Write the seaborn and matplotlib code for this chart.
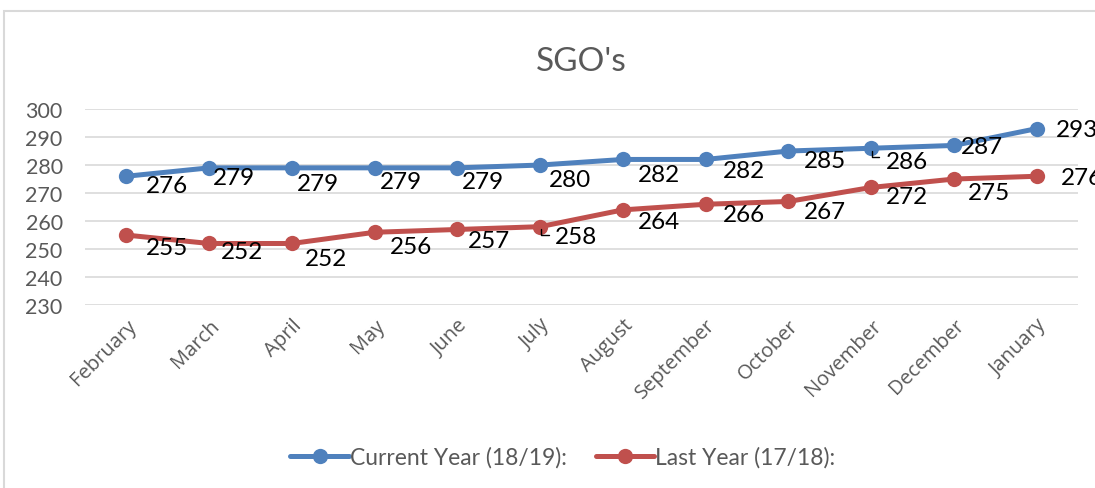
import matplotlib
matplotlib.use("Agg")
import matplotlib.pyplot as plt
import seaborn as sns
import pandas as pd
from matplotlib.patches import Rectangle

months = ["February", "March", "April", "May", "June", "July", "August",
          "September", "October", "November", "December", "January"]
current_year = [276, 279, 279, 279, 279, 280, 282, 282, 285, 286, 287, 293]
last_year = [255, 252, 252, 256, 257, 258, 264, 266, 267, 272, 275, 276]
series_names = ["Current Year (18/19):", "Last Year (17/18):"]
yticks = [230, 240, 250, 260, 270, 280, 290, 300]

# label offsets in pixels (dx, dy) from each point
cur_offsets = [(41, -9), (25, -10), (26, -16), (26, -14), (26, -14), (30, -14), (36, -15),
               (38, -11), (37, -9), (36, -13), (28, -1), (40, -1)]
last_offsets = [(41, -12), (33, -8), (34, -15), (36, -14), (32, -11), (36, -10), (36, -12),
                (38, -10), (37, -10), (36, -9), (35, -13), (45, -1)]

sns.set_theme(style="white")
plt.rcParams['font.family'] = ['Lato', 'DejaVu Sans']

df = pd.DataFrame({
    "month": months * 2,
    "value": current_year + last_year,
    "series": [series_names[0]] * len(months) + [series_names[1]] * len(months),
})

fig = plt.figure(figsize=(10.95, 4.89), dpi=100)
ax = fig.add_axes([0.0776, 0.374, 0.9069, 0.401])

palette = {series_names[0]: "#4F81BD", series_names[1]: "#C0504D"}
sns.lineplot(data=df, x="month", y="value", hue="series", palette=palette,
             marker="o", markersize=11, linewidth=3.6, markeredgewidth=0,
             sort=False, ax=ax, legend=True)

ax.set_ylim(230, 300)
ax.set_xlim(-0.5, len(months) - 0.5)
ax.set_yticks(yticks)
ax.yaxis.grid(True, color="#D9D9D9", linewidth=1.2)
ax.set_axisbelow(True)
for s in ax.spines.values():
    s.set_visible(False)
ax.set_xlabel("")
ax.set_ylabel("")
ax.tick_params(axis="both", length=0, labelsize=15.5, labelcolor="#595959")
ax.tick_params(axis="y", pad=16)
ax.set_xticks(range(len(months)))
ax.set_xticklabels(months, rotation=45, ha="right", rotation_mode="anchor",
                   family=["Open Sans", "DejaVu Sans"], fontsize=14.5)
ax.tick_params(axis="x", pad=7)

for i, (v, off) in enumerate(zip(current_year, cur_offsets)):
    ax.annotate(str(v), (i, v), xytext=off, textcoords="offset pixels",
                ha="center", va="center", fontsize=17.5, color="black", annotation_clip=False)
for i, (v, off) in enumerate(zip(last_year, last_offsets)):
    ax.annotate(str(v), (i, v), xytext=off, textcoords="offset pixels",
                ha="center", va="center", fontsize=17.5, color="black", annotation_clip=False)

# small leader lines for two labels
ax.plot([9.01, 9.01, 9.1], [284.9, 282.9, 282.9], color="black", linewidth=1, clip_on=False)
ax.plot([5.01, 5.01, 5.11], [257.0, 255.2, 255.2], color="black", linewidth=1, clip_on=False)

ax.set_title("SGO's", fontsize=24, color="#595959", pad=28)

handles, labels = ax.get_legend_handles_labels()
ax.legend(handles, labels, loc="center", bbox_to_anchor=(0.514, 0.063),
          bbox_transform=fig.transFigure, ncol=2, frameon=False, fontsize=16.5,
          labelcolor="#595959", handlelength=2.55, handletextpad=0.05, columnspacing=1.25)

fig.patches.append(Rectangle((0.004, -0.05), 1.2, 1.025, transform=fig.transFigure,
                             fill=False, edgecolor="#D9D9D9", linewidth=1.5, zorder=0))

fig.savefig("out.png", dpi=100)
